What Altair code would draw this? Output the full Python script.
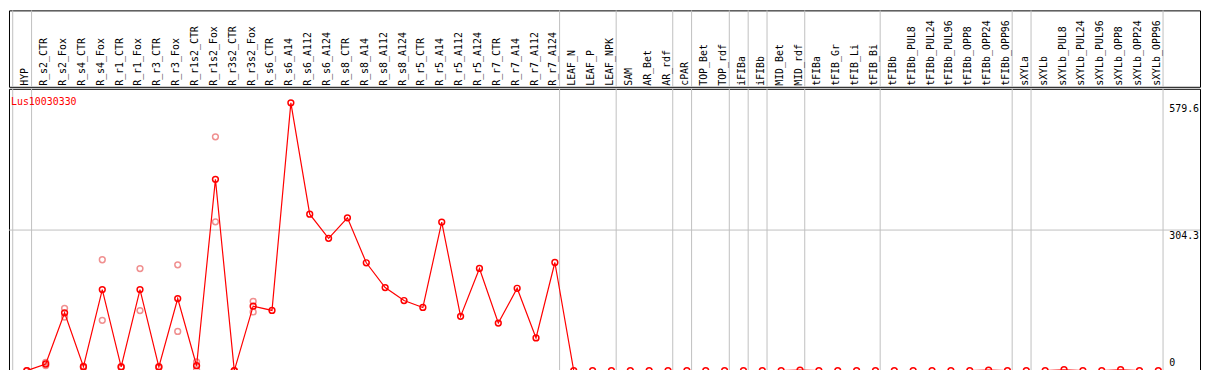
import altair as alt
import pandas as pd

GENE = "Lus10030330"

LABELS = [
    "HYP", "R_s2_CTR", "R_s2_Fox", "R_s4_CTR", "R_s4_Fox", "R_r1_CTR", "R_r1_Fox",
    "R_r3_CTR", "R_r3_Fox", "R_r1s2_CTR", "R_r1s2_Fox", "R_r3s2_CTR", "R_r3s2_Fox",
    "R_s6_CTR", "R_s6_A14", "R_s6_A112", "R_s6_A124", "R_s8_CTR", "R_s8_A14",
    "R_s8_A112", "R_s8_A124", "R_r5_CTR", "R_r5_A14", "R_r5_A112", "R_r5_A124",
    "R_r7_CTR", "R_r7_A14", "R_r7_A112", "R_r7_A124", "LEAF_N", "LEAF_P", "LEAF_NPK",
    "SAM", "AR_Bet", "AR_rdf", "cPAR", "TOP_Bet", "TOP_rdf", "iFIBa", "iFIBb",
    "MID_Bet", "MID_rdf", "tFIBa", "tFIB_Gr", "tFIB_Li", "tFIB_Bi", "tFIBb",
    "tFIBb_PUL8", "tFIBb_PUL24", "tFIBb_PUL96", "tFIBb_OPP8", "tFIBb_OPP24",
    "tFIBb_OPP96", "sXYLa", "sXYLb", "sXYLb_PUL8", "sXYLb_PUL24", "sXYLb_PUL96",
    "sXYLb_OPP8", "sXYLb_OPP24", "sXYLb_OPP96",
]

MEANS = [
    0, 14.4, 125.2, 8.6, 175.5, 8, 175.5, 8, 156, 10.7, 414, 0, 139.6,
    130.4, 579.6, 338.7, 286.3, 330.8, 233.5, 179.8, 151.8, 136.8, 321.5,
    117.5, 221.2, 103, 178.3, 70.9, 234.1, 0, 0, 0,
    0, 0, 0, 0, 0, 0, 0, 0, 0, 1.2, 0, 0, 0, 0, 0,
    0, 0, 0, 0, 1.2, 0, 0, 0, 2, 0, 0, 2, 0, 0,
]

# replicate values (two per sample where visible)
REP_A = [0, 18, 135, 10, 240, 9, 221, 9, 229, 19, 506, 0, 150]
REP_B = [0, 11, 116, 7, 109, 7, 130, 7, 85, 2, 322, 0, 127]

# separators are drawn before the first sample and after each of these
GROUP_BREAKS_AFTER = ["HYP", "R_r7_A124", "LEAF_NPK", "AR_rdf", "cPAR", "TOP_rdf",
                      "iFIBa", "iFIBb", "MID_rdf", "tFIB_Bi", "tFIBb_OPP96", "sXYLa",
                      "sXYLb_OPP96"]

GRID_VALUES = [304.3]
TICK_TOP = [579.6, 304.3]
TICK_TOP_TEXT = ["579.6", "304.3"]
TICK_ZERO = [0]
TICK_ZERO_TEXT = ["0"]

FONT = "DejaVu Sans Mono"
RED = "#ff0000"
FAINT = "#f09090"
GRAY = "#c0c0c0"

W = 1200
H_TOP = 77
H_BOT = 284
STEP = 19.0
X0 = 18.0
x_scale = alt.Scale(domain=[-X0 / STEP, (W - X0) / STEP], nice=False, zero=False)
y_scale = alt.Scale(domain=[0, 610], nice=False, zero=True)

samples = pd.DataFrame({"idx": list(range(len(LABELS))), "label": LABELS, "mean": MEANS})
reps = pd.DataFrame({
    "idx": list(range(len(REP_A))) * 2,
    "v": REP_A + REP_B,
})
breaks = pd.DataFrame({"b": [-1 + 0.25] + [LABELS.index(l) + 0.25 for l in GROUP_BREAKS_AFTER]})
grid = pd.DataFrame({"v": GRID_VALUES})
ticks_top = pd.DataFrame({"v": TICK_TOP, "t": TICK_TOP_TEXT})
ticks_zero = pd.DataFrame({"v": TICK_ZERO, "t": TICK_ZERO_TEXT})
title_df = pd.DataFrame({"g": [GENE]})

vrules = alt.Chart(breaks).mark_rule(color=GRAY, strokeWidth=1).encode(
    x=alt.X("b:Q", scale=x_scale, axis=None)
)

label_text = alt.Chart(samples).mark_text(
    angle=270, align="left", baseline="alphabetic", font=FONT, fontSize=10,
    color="black", dy=1.5
).encode(
    x=alt.X("idx:Q", scale=x_scale, axis=None),
    y=alt.value(H_TOP - 1),
    text="label:N",
)

top = alt.layer(vrules, label_text).properties(width=W, height=H_TOP)

hgrid = alt.Chart(grid).mark_rule(color=GRAY, strokeWidth=1).encode(
    y=alt.Y("v:Q", scale=y_scale, axis=None)
)

faint = alt.Chart(reps).mark_point(
    shape="circle", filled=False, color=FAINT, size=34, strokeWidth=1.5, opacity=1
).encode(
    x=alt.X("idx:Q", scale=x_scale, axis=None),
    y=alt.Y("v:Q", scale=y_scale, axis=None),
)

line = alt.Chart(samples).mark_line(color=RED, strokeWidth=1.2).encode(
    x=alt.X("idx:Q", scale=x_scale, axis=None),
    y=alt.Y("mean:Q", scale=y_scale, axis=None),
)

pts = alt.Chart(samples).mark_point(
    shape="circle", filled=False, color=RED, size=34, strokeWidth=1.5, opacity=1
).encode(
    x=alt.X("idx:Q", scale=x_scale, axis=None),
    y=alt.Y("mean:Q", scale=y_scale, axis=None),
)

title_txt = alt.Chart(title_df).mark_text(
    align="left", baseline="alphabetic", font=FONT, fontSize=10, color=RED
).encode(x=alt.value(2), y=alt.value(16), text="g:N")

rt_top = alt.Chart(ticks_top).mark_text(
    align="left", baseline="top", font=FONT, fontSize=10, color="black", dy=1.5
).encode(x=alt.value(1169), y=alt.Y("v:Q", scale=y_scale, axis=None), text="t:N")

rt_zero = alt.Chart(ticks_zero).mark_text(
    align="left", baseline="bottom", font=FONT, fontSize=10, color="black", dy=-3
).encode(x=alt.value(1169), y=alt.Y("v:Q", scale=y_scale, axis=None), text="t:N")

bottom = alt.layer(vrules, hgrid, faint, line, pts, title_txt, rt_top, rt_zero).properties(
    width=W, height=H_BOT
)

chart = alt.vconcat(top, bottom, spacing=0).properties(
    padding=0, background="white"
).configure_view(stroke="black", strokeWidth=1)

chart.save("out.html", embed_options={"renderer": "svg", "actions": False})
